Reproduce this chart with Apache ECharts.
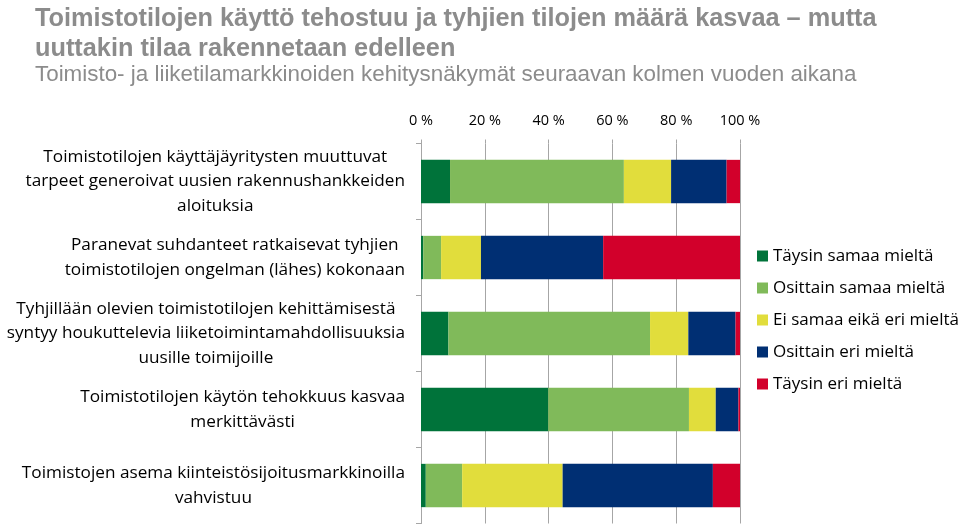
<!DOCTYPE html>
<html>
<head>
<meta charset="utf-8">
<script src="https://cdn.jsdelivr.net/npm/echarts@6/dist/echarts.min.js"></script>
<style>
html,body{margin:0;padding:0;background:#fff;}
#c{width:960px;height:525px;}
</style>
</head>
<body>
<div id="c"></div>
<script>
const titleLines = ['Toimistotilojen käyttö tehostuu ja tyhjien tilojen määrä kasvaa – mutta', 'uuttakin tilaa rakennetaan edelleen'];
const subtitle = 'Toimisto- ja liiketilamarkkinoiden kehitysnäkymät seuraavan kolmen vuoden aikana';
const categories = [
  'Toimistotilojen käyttäjäyritysten muuttuvat\ntarpeet generoivat uusien rakennushankkeiden\naloituksia',
  'Paranevat suhdanteet ratkaisevat tyhjien\ntoimistotilojen ongelman (lähes) kokonaan',
  'Tyhjillään olevien toimistotilojen kehittämisestä\nsyntyy houkuttelevia liiketoimintamahdollisuuksia\nuusille toimijoille',
  'Toimistotilojen käytön tehokkuus kasvaa\nmerkittävästi',
  'Toimistojen asema kiinteistösijoitusmarkkinoilla\nvahvistuu'
];
const seriesNames = ['Täysin samaa mieltä', 'Osittain samaa mieltä', 'Ei samaa eikä eri mieltä', 'Osittain eri mieltä', 'Täysin eri mieltä'];
const taysinSamaa   = [9.1, 0.7, 8.6, 39.9, 1.5];
const osittainSamaa = [54.5, 5.6, 63.2, 44.1, 11.4];
const eiSamaaEiEri  = [14.8, 12.5, 12.0, 8.4, 31.5];
const osittainEri   = [17.4, 38.3, 14.8, 7.1, 47.1];
const taysinEri     = [4.2, 42.9, 1.4, 0.5, 8.5];
const xTicks = [0, 20, 40, 60, 80, 100];
const colors = ['#00733a', '#80ba5a', '#e1dd3c', '#002f73', '#d2002b'];

const values = [taysinSamaa, osittainSamaa, eiSamaaEiEri, osittainEri, taysinEri];
const chart = echarts.init(document.getElementById('c'));
const labelFont = '"Open Sans", Lato, sans-serif';
chart.setOption({
  animation: false,
  title: [
    { text: titleLines.join('\n'), left: 30, top: -1,
      textStyle: { fontFamily: '"Liberation Sans", Arial, sans-serif', fontSize: 25.3, fontWeight: 'bold', color: '#8c8c8c', lineHeight: 30 } },
    { text: subtitle, left: 30, top: 57,
      textStyle: { fontFamily: '"Liberation Sans", Arial, sans-serif', fontSize: 22.4, fontWeight: 'normal', color: '#8c8c8c', lineHeight: 26 } }
  ],
  legend: {
    orient: 'vertical', left: 752, top: 241,
    icon: 'rect', itemWidth: 11, itemHeight: 11, itemGap: 12, selectedMode: false,
    textStyle: { fontFamily: labelFont, fontSize: 17, color: '#000', lineHeight: 20, padding: [0,0,0,0] },
    data: seriesNames
  },
  grid: { left: 421, right: 220, top: 143.5, bottom: 1.5, containLabel: false },
  xAxis: {
    type: 'value', position: 'top', min: 0, max: 100, interval: 20,
    axisLine: { show: false },
    axisTick: { show: true, length: 4, lineStyle: { color: '#a6a6a6' } },
    splitLine: { show: true, lineStyle: { color: '#a6a6a6', width: 1 } },
    axisLabel: { margin: 15, fontFamily: labelFont, fontSize: 14.5, color: '#000',
      formatter: v => xTicks.includes(v) ? v + ' %' : '' }
  },
  yAxis: {
    type: 'category', inverse: true, data: categories,
    axisLine: { show: true, lineStyle: { color: '#a6a6a6' } },
    axisTick: { show: true, length: 5, lineStyle: { color: '#a6a6a6' } },
    axisLabel: {
      margin: 16, align: 'right',
      formatter: v => v.split('\n').map(s => '{c|' + s + '}').join('\n'),
      rich: { c: { align: 'center', fontFamily: labelFont, fontSize: 17.2, lineHeight: 24.5, color: '#000' } }
    }
  },
  series: seriesNames.map((n, i) => ({
    name: n, type: 'bar', stack: 'all', data: values[i],
    barCategoryGap: '43%', itemStyle: { color: colors[i] }
  }))
});
</script>
</body>
</html>
